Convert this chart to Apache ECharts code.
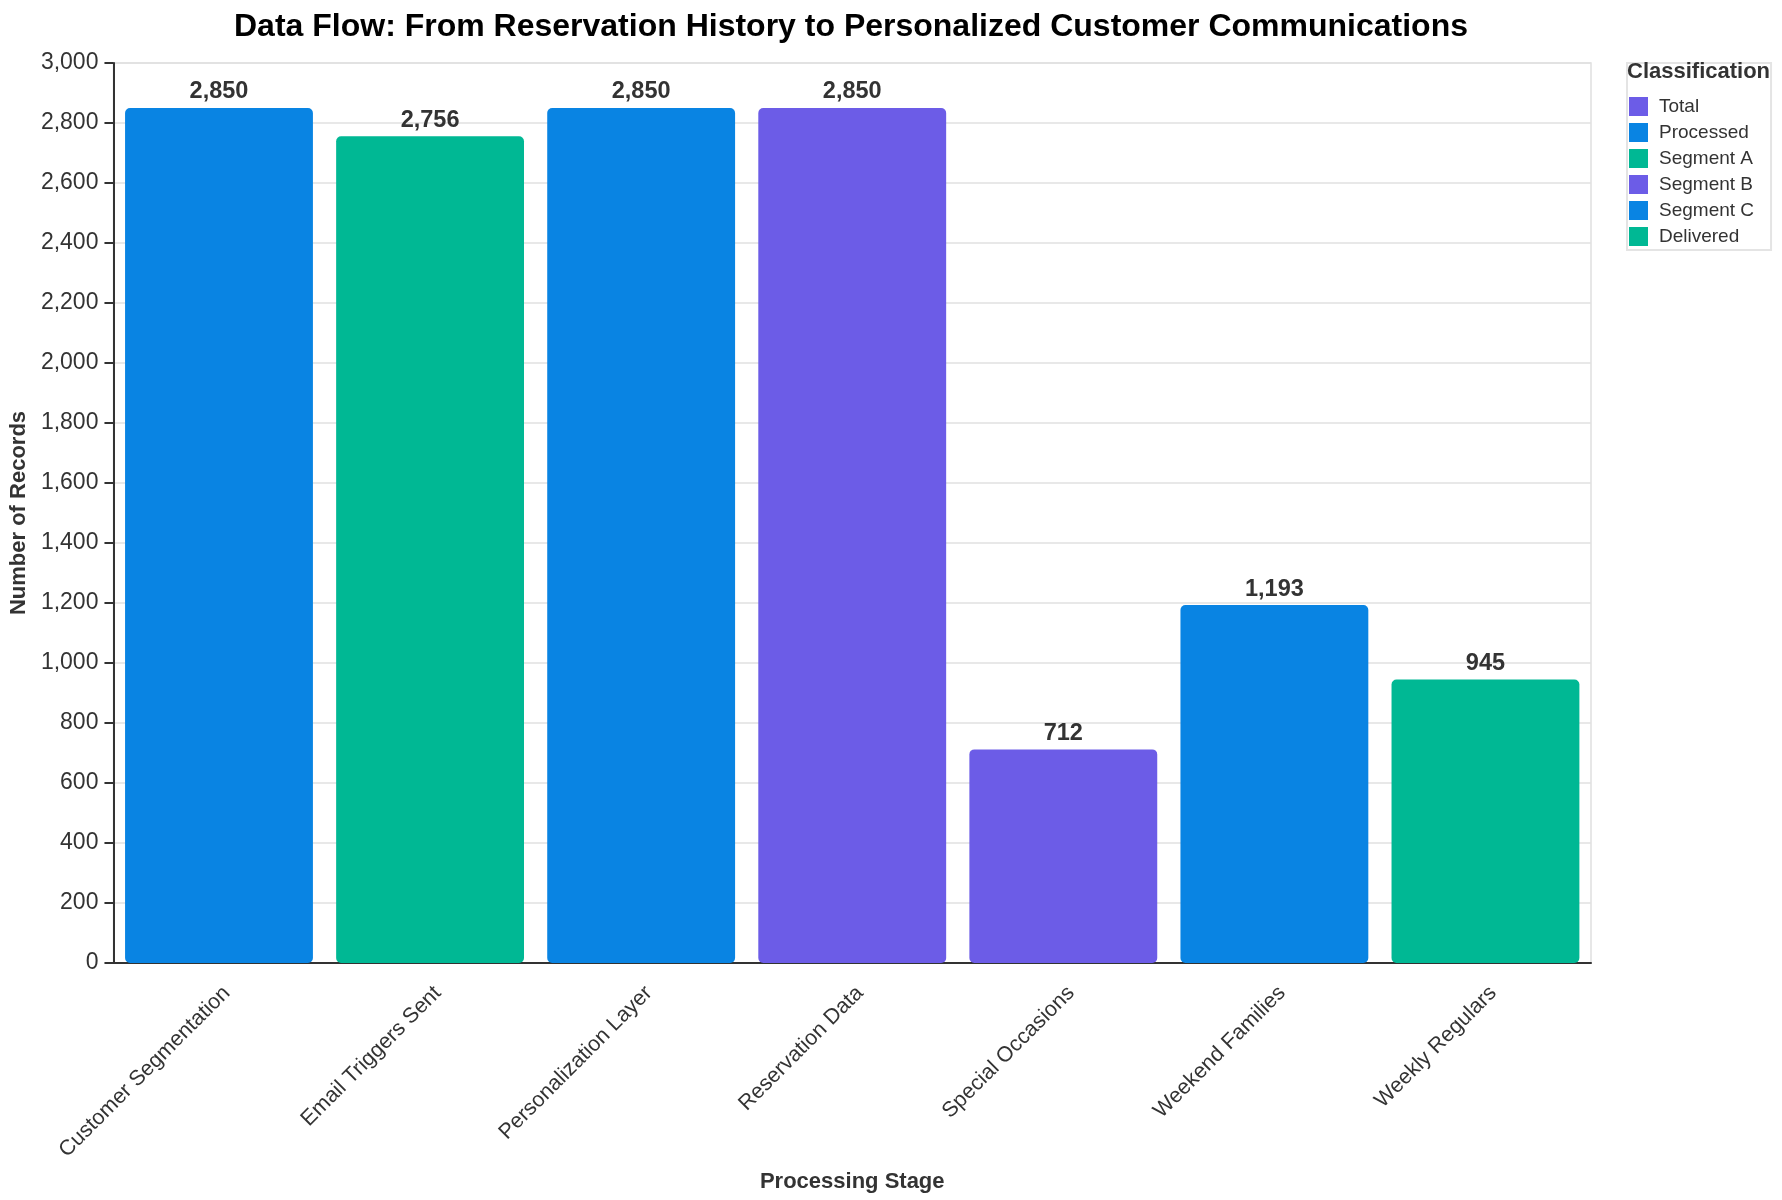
<!DOCTYPE html>
<html>
<head>
<meta charset="utf-8">
<style>
  html, body { margin: 0; padding: 0; background: #fff; }
  #chart1 { width: 1782px; height: 1200px; }
</style>
<script src="https://cdn.jsdelivr.net/npm/echarts@6/dist/echarts.min.js"></script>
</head>
<body>
<div id="chart1"></div>
<script>
var stages = ['Customer Segmentation', 'Email Triggers Sent', 'Personalization Layer',
  'Reservation Data', 'Special Occasions', 'Weekend Families', 'Weekly Regulars'];
var records = [2850, 2756, 2850, 2850, 712, 1193, 945];
var stageClass = ['Processed', 'Delivered', 'Processed', 'Total', 'Segment B', 'Segment C', 'Segment A'];

var classNames = ['Total', 'Processed', 'Segment A', 'Segment B', 'Segment C', 'Delivered'];
var classColors = ['#6c5ce7', '#0984e3', '#00b894', '#6c5ce7', '#0984e3', '#00b894'];

var font = '"Liberation Sans", Arial, sans-serif';

var dom = document.getElementById('chart1');
var myChart = echarts.init(dom, null, { renderer: 'canvas' });

var series = classNames.map(function (name, k) {
  return {
    name: name,
    type: 'bar',
    stack: 'all',
    barCategoryGap: '11%',
    itemStyle: { color: classColors[k], borderRadius: 5 },
    label: {
      show: true,
      position: 'top',
      distance: 4,
      color: '#333',
      fontFamily: font,
      fontWeight: 'bold',
      fontSize: 23.5,
      formatter: function (p) { return p.value.toLocaleString('en-US'); }
    },
    data: records.map(function (v, i) { return stageClass[i] === name ? v : null; })
  };
});

var option = {
  animation: false,
  textStyle: { fontFamily: font },
  title: [{
    text: 'Data Flow: From Reservation History to Personalized Customer Communications',
    left: 846,
    top: 6,
    textAlign: 'center',
    textStyle: { fontFamily: font, fontSize: 32, fontWeight: 'bold', color: '#000' }
  }, {
    text: 'Classification',
    left: 1627,
    top: 61,
    padding: 0,
    textStyle: { fontFamily: font, fontSize: 22, fontWeight: 'bold', color: '#333' }
  }],
  legend: {
    orient: 'vertical',
    left: 1627,
    top: 63,
    padding: [34, 17, 4, 2],
    itemWidth: 19,
    itemHeight: 19,
    itemGap: 7,
    icon: 'rect',
    borderColor: '#e4e4e4',
    borderWidth: 2,
    data: classNames,
    textStyle: { fontFamily: font, fontSize: 19, color: '#333', padding: [0, 0, 0, 6] }
  },
  grid: {
    left: 111,
    right: 1782 - 1591,
    top: 63,
    bottom: 1200 - 963,
    show: true,
    borderColor: '#e0e0e0',
    borderWidth: 1.5
  },
  xAxis: {
    type: 'category',
    data: stages,
    name: 'Processing Stage',
    nameLocation: 'middle',
    nameGap: 208,
    nameTextStyle: { fontFamily: font, fontSize: 22, fontWeight: 'bold', color: '#333' },
    axisLine: { lineStyle: { color: '#333', width: 2 } },
    axisTick: { alignWithLabel: true, length: 9, lineStyle: { color: '#333', width: 2 } },
    axisLabel: {
      rotate: 45, margin: 19, fontSize: 21.5, color: '#333', fontFamily: font,
      verticalAlign: 'top'
    }
  },
  yAxis: {
    type: 'value',
    min: 0,
    max: 3000,
    interval: 200,
    name: 'Number of Records',
    nameLocation: 'middle',
    nameGap: 77,
    nameTextStyle: { fontFamily: font, fontSize: 22, fontWeight: 'bold', color: '#333' },
    axisLine: { show: true, lineStyle: { color: '#333', width: 2 } },
    axisTick: { show: true, length: 9, lineStyle: { color: '#333', width: 2 } },
    axisLabel: {
      fontSize: 23, color: '#333', fontFamily: font, margin: 15,
      formatter: function (v) { return v.toLocaleString('en-US'); }
    },
    splitLine: { lineStyle: { color: '#e0e0e0', width: 1.5 } }
  },
  series: series
};

myChart.setOption(option);
window.addEventListener('resize', myChart.resize);
</script>
</body>
</html>
